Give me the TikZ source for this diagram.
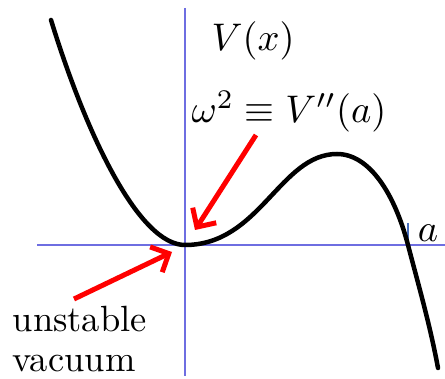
\documentclass[tikz,border=0pt]{standalone}
\usetikzlibrary{arrows.meta}
\definecolor{axisblue}{RGB}{110,110,225}
\definecolor{tickblue}{RGB}{70,110,190}
\tikzset{
  axisline/.style={draw=axisblue, line width=1.6pt},
  curveline/.style={draw=black, line width=4.5pt, line cap=round},
  redarrow/.style={draw=red, line width=5pt, -{Straight Barb[length=14pt, width=28pt, line width=5pt]}},
  mathlabel/.style={inner sep=0pt, scale=3.85},
  textlabel/.style={inner sep=0pt, scale=3.65}
}
\begin{document}
\begin{tikzpicture}[x=1pt, y=-1pt]
\useasboundingbox (0,0) rectangle (445,379);
% axes
\coordinate (xl) at (37,245);
\coordinate (xr) at (445,245);
\coordinate (yt) at (185,8);
\coordinate (yb) at (185,376);
\draw[axisline] (xl) -- (xr);
\draw[axisline] (yt) -- (yb);
% tick at a
\coordinate (tb) at (408,245);
\coordinate (tt) at (408,223);
\draw[draw=tickblue, line width=2.6pt] (tb) -- (tt);
% curve
\draw[curveline] (51,20) .. controls (88,140) and (140,245) .. (185,245)
  .. controls (260,245) and (280,154) .. (337,154)
  .. controls (370,154) and (395,195) .. (408,245)
  .. controls (419,287) and (430,325) .. (438,368);
% labels
\node[mathlabel] (V) at (253,41) {$V(x)$};
\node[mathlabel] (w) at (289,112) {$\omega^2\equiv V''(a)$};
\node[mathlabel, anchor=base west] (a) at (417,242) {$a$};
\node[textlabel, anchor=base west] (u1) at (12,332) {unstable};
\node[textlabel, anchor=base west] (u2) at (12,372) {vacuum};
% arrows
\coordinate (h1) at (195,230);
\coordinate (t1) at (256,135);
\coordinate (h2) at (172,252);
\coordinate (t2) at (74,299);
\draw[redarrow] (t1) -- (h1);
\draw[redarrow] (t2) -- (h2);
\end{tikzpicture}
\end{document}
